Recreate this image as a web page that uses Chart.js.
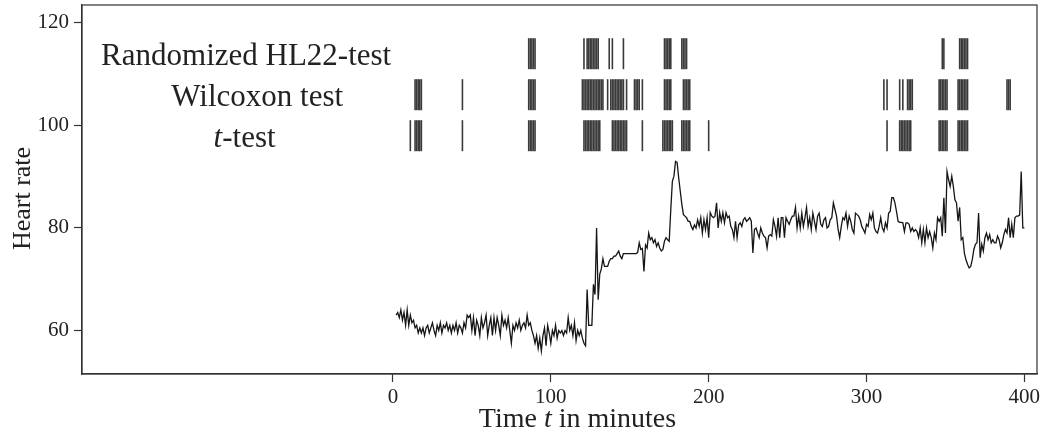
<!DOCTYPE html>
<html>
<head>
<meta charset="utf-8">
<script src="https://cdn.jsdelivr.net/npm/chart.js@4.4.1/dist/chart.umd.min.js"></script>
<style>
  html, body { margin: 0; padding: 0; background: #fff; }
</style>
</head>
<body>
<canvas id="hrChart" width="1064" height="432"></canvas>
<script>
// heart rate, one value per minute, starting at minute 2
const firstMinute = 2;
const heartRate = [
    63, 63.5, 62.5, 64, 62, 63.5, 61, 64,
    // 10
    61, 63, 61.5, 62, 60.5, 61, 59.5, 60.5, 59.5, 60.5,
    // 20
    59, 60.5, 61, 59.5, 60.5, 61.5, 60, 59, 61, 60,
    // 30
    61.5, 59.5, 61, 60.5, 61.5, 60, 61, 59.5, 61, 60,
    // 40
    61.5, 59.5, 61, 60.5, 59.5, 61.5, 60.5, 63, 62.5, 63,
    // 50
    60, 62.5, 59, 62, 61, 59, 62.5, 60.5, 61.5, 63,
    // 60
    59, 61, 62.5, 59, 62.5, 60, 62.5, 61, 59, 63,
    // 70
    61, 62, 60.5, 62.5, 60, 57.5, 61, 60, 61.5, 60.5,
    // 80
    62, 60, 61, 61.5, 60.5, 63, 61, 61.5, 60, 59,
    // 90
    57.5, 59, 56.5, 58.5, 56, 59, 60.5, 57, 61, 59.5,
    // 100
    57.5, 60, 59, 61, 58.5, 60, 59.5, 60, 59, 60,
    // 110
    59.5, 62.5, 60, 61, 59, 61.5, 58, 60, 59, 60,
    // 120
    58.5, 57.5, 57, 68, 61, 61, 61, 69, 67, 80,
    // 130
    66, 71, 72, 74, 72.5, 72.5, 72.5, 73.5, 74, 74,
    // 140
    74.5, 74.5, 75, 75.5, 74.5, 74, 75, 75, 75, 75,
    // 150
    75, 75, 75, 75, 75, 75.2, 77.1, 75.8, 76, 71.5,
    // 160
    76.7, 76.1, 79, 77.7, 78.1, 77.1, 77.7, 76.4, 77.1, 76.1,
    // 170
    75.5, 75.8, 77.4, 78.1, 77.7, 77.4, 83.6, 89.1, 90.1, 93,
    // 180
    92.8, 89.8, 87.2, 84.6, 82.6, 82.3, 82, 81.3, 81.3, 80.3,
    // 190
    79.7, 80.6, 80, 81.6, 80.3, 82, 79, 81.6, 79.7, 82,
    // 200
    78.1, 83, 82.3, 82, 82.3, 84.9, 80, 83, 81.3, 83,
    // 210
    81, 83, 82, 82.3, 80.3, 79.7, 78.1, 81.3, 78.1, 80.6,
    // 220
    81, 80.3, 81.6, 82, 81.3, 81.6, 82, 81.3, 75.1, 79.7,
    // 230
    80, 79, 78.1, 80, 79, 78.4, 78.1, 76.1, 78.4, 78.7,
    // 240
    78.4, 81.6, 80.3, 78.4, 82, 78.1, 82, 82, 78.1, 82,
    // 250
    81.3, 80.7, 81.6, 82.3, 82.3, 84, 80, 82.3, 80, 82.9,
    // 260
    80.3, 82, 84, 80.3, 82, 79.7, 82.9, 81.3, 79.7, 82.3,
    // 270
    82.9, 80.7, 80.3, 81.6, 82, 80, 80.3, 81.6, 82, 84.9,
    // 280
    83.6, 82.3, 79.7, 78.1, 80.3, 82, 81.6, 82.9, 80.3, 82.3,
    // 290
    81.3, 79.7, 79, 82.9, 82.6, 82.3, 81.6, 80.3, 79.7, 79,
    // 300
    80.7, 80.3, 82.6, 81.6, 82.9, 80, 79.3, 79, 80.3, 82,
    // 310
    80, 79.3, 81, 80, 82.9, 83.2, 85.9, 85.9, 84.9, 83.2,
    // 320
    81.3, 81.1, 81.1, 81, 79.3, 81, 81, 80.7, 79.3, 80,
    // 330
    79.3, 79.7, 79.3, 78.1, 80, 77.1, 79.7, 77.1, 80, 78.1,
    // 340
    79.3, 78.1, 76.1, 79, 77.7, 82, 81.3, 82, 78.4, 85.9,
    // 350
    79, 91, 89.4, 88.1, 90.1, 88.1, 85.5, 84.9, 81.3, 84,
    // 360
    77.7, 78.1, 75.1, 73.8, 72.9, 72.2, 72.5, 73.8, 75.8, 76.8,
    // 370
    77.1, 82.9, 74.2, 76.8, 75.5, 78.1, 79, 77.7, 78.7, 77.1,
    // 380
    77.7, 77.1, 77.1, 78.4, 77.7, 76.1, 77.1, 78.7, 79.7, 79,
    // 390
    82, 78.1, 80.7, 78.1, 82, 82.3, 82.3, 82.5, 91, 80,
    // 400
    80
];

// minutes where each test flagged a change
const hl22Minutes = [86, 87, 88, 89, 90, 121, 123, 124, 125, 126, 127, 128, 129, 130,
    137, 139, 146, 172, 173, 174, 175, 176, 183, 184, 185, 186,
    348, 349, 359, 360, 361, 362, 363, 364];
const wilcoxonMinutes = [14, 15, 16, 17, 18, 44, 86, 87, 88, 89, 90,
    120, 121, 122, 123, 124, 125, 126, 127, 128, 129, 130, 131, 132, 133,
    136, 138, 139, 140, 141, 142, 143, 144, 145, 146, 148,
    153, 154, 155, 156, 158, 172, 173, 174, 175, 176, 184, 185, 186, 187, 188,
    311, 313, 321, 323, 326, 327, 328, 329, 346, 347, 348, 349, 350, 351,
    358, 359, 360, 361, 362, 363, 364, 389, 390, 391];
const tTestMinutes = [11, 14, 15, 16, 17, 18, 44, 86, 87, 88, 89, 90,
    121, 122, 123, 124, 125, 126, 127, 128, 129, 130, 131,
    139, 140, 141, 142, 143, 144, 145, 146, 147, 148, 158,
    171, 172, 173, 174, 175, 176, 177, 183, 184, 185, 186, 187, 188, 200,
    313, 321, 322, 323, 324, 325, 326, 327, 328, 346, 347, 348, 349, 350, 351,
    358, 359, 360, 361, 362, 363, 364];

// rows of the rug plot (heart-rate units) and their labels
const rugLevels = [114, 106, 98];
const testLabels = [
    [['Randomized HL22-test', false]],
    [['Wilcoxon test', false]],
    [['t', true], ['-test', false]]
];
const labelCenterX = [-93, -86, -94];

const xTicks = [0, 100, 200, 300, 400];
const yTicks = [60, 80, 100, 120];

const serif = '"Liberation Serif", "Times New Roman", serif';
const ink = '#222';

function drawMixed(ctx, parts, cx, baseline, size) {
    let total = 0;
    const widths = parts.map(([txt, it]) => {
        ctx.font = (it ? 'italic ' : '') + size + 'px ' + serif;
        const w = ctx.measureText(txt).width;
        total += w;
        return w;
    });
    let x = cx - total / 2;
    parts.forEach(([txt, it], i) => {
        ctx.font = (it ? 'italic ' : '') + size + 'px ' + serif;
        ctx.fillText(txt, x, baseline);
        x += widths[i];
    });
}

const frameAndText = {
    id: 'frameAndText',
    afterDraw(chart) {
        const { ctx, chartArea: a, scales: { x, y } } = chart;
        ctx.save();
        ctx.strokeStyle = '#333';
        ctx.lineWidth = 1.2;
        ctx.strokeRect(a.left, a.top, a.right - a.left, a.bottom - a.top);

        ctx.fillStyle = ink;
        ctx.textAlign = 'left';
        ctx.textBaseline = 'alphabetic';
        testLabels.forEach((parts, i) => {
            drawMixed(ctx, parts, x.getPixelForValue(labelCenterX[i]), y.getPixelForValue(rugLevels[i]) + 11, 31);
        });

        // x axis title with italic t
        drawMixed(ctx, [['Time ', false], ['t', true], [' in minutes', false]],
            (a.left + a.right) / 2 + 18, 427, 28);

        // y axis title, sits a bit below the axis centre in the original
        ctx.save();
        ctx.translate(30, (a.top + a.bottom) / 2 + 9);
        ctx.rotate(-Math.PI / 2);
        drawMixed(ctx, [['Heart rate', false]], 0, 0, 26);
        ctx.restore();
        ctx.restore();
    }
};

const rugSets = [hl22Minutes, wilcoxonMinutes, tTestMinutes].map((mins, i) => ({
    type: 'scatter',
    data: mins.map(m => ({ x: m, y: rugLevels[i] })),
    pointStyle: 'line',
    rotation: 90,
    pointRadius: 15.5,
    pointHoverRadius: 15.5,
    pointBorderColor: '#3a3a3a',
    pointBorderWidth: 1.6,
    showLine: false
}));

function noEdgePadding(s) {
    s.paddingTop = 0;
    s.paddingBottom = 0;
    s.paddingLeft = 0;
    s.paddingRight = 0;
}

new Chart(document.getElementById('hrChart'), {
    type: 'line',
    data: {
        datasets: [
            {
                data: heartRate.map((v, i) => ({ x: firstMinute + i, y: v })),
                borderColor: '#151515',
                borderWidth: 1.3,
                pointRadius: 0,
                tension: 0,
                fill: false
            },
            ...rugSets
        ]
    },
    options: {
        responsive: false,
        animation: false,
        events: [],
        layout: { autoPadding: false, padding: { top: 5, right: 27, bottom: 0, left: 0 } },
        plugins: {
            legend: { display: false },
            tooltip: { enabled: false }
        },
        scales: {
            x: {
                type: 'linear',
                min: -197,
                max: 408,
                afterBuildTicks: (s) => { s.ticks = xTicks.map(v => ({ value: v })); },
                afterFit: (s) => { s.height = 58; noEdgePadding(s); },
                grid: { drawOnChartArea: false, tickLength: 8, tickColor: '#333', tickWidth: 1.2 },
                border: { display: true, color: '#333', width: 1.2 },
                ticks: { color: ink, font: { family: serif, size: 21 }, padding: 3, maxRotation: 0 }
            },
            y: {
                min: 51.5,
                max: 123.5,
                afterBuildTicks: (s) => { s.ticks = yTicks.map(v => ({ value: v })); },
                afterFit: (s) => { s.width = 82; noEdgePadding(s); },
                grid: { drawOnChartArea: false, tickLength: 8, tickColor: '#333', tickWidth: 1.2 },
                border: { display: true, color: '#333', width: 1.2 },
                ticks: { color: ink, font: { family: serif, size: 21 }, padding: 5 }
            }
        }
    },
    plugins: [frameAndText]
});
</script>
</body>
</html>
